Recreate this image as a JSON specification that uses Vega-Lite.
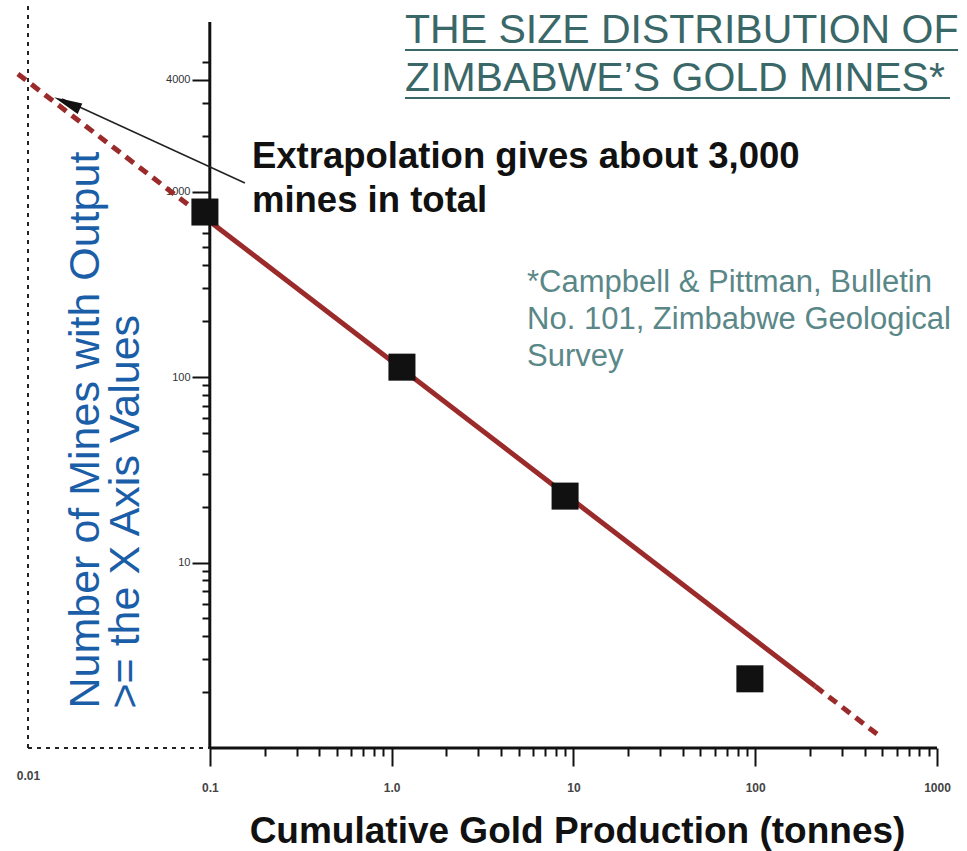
{
  "$schema": "https://vega.github.io/schema/vega-lite/v6.json",
  "width": 909,
  "height": 742,
  "autosize": "none",
  "padding": {"left": 28, "top": 6, "right": 30, "bottom": 103},
  "background": "white",
  "config": {"view": {"stroke": null}},
  "layer": [
    {
      "data": {"values": [
        {"x": 0.01, "x2": 0.01, "y": 1, "y2": 10000},
        {"x": 0.01, "x2": 0.1, "y": 1, "y2": 1}
      ]},
      "mark": {"type": "rule", "color": "#222222", "strokeWidth": 2, "strokeDash": [4, 5]},
      "encoding": {
        "x": {"field": "x", "type": "quantitative",
          "scale": {"type": "log", "domain": [0.01, 1000]},
          "axis": {
            "domain": false, "grid": false,
            "values": [0.01, 0.1, 0.2, 0.3, 0.4, 0.5, 0.6, 0.7, 0.8, 0.9, 1, 2, 3, 4, 5, 6, 7, 8, 9, 10, 20, 30, 40, 50, 60, 70, 80, 90, 100, 200, 300, 400, 500, 600, 700, 800, 900, 1000],
            "labelExpr": "datum.value == 0.01 ? '0.01' : datum.value == 0.1 ? '0.1' : datum.value == 1 ? '1.0' : datum.value == 10 ? '10' : datum.value == 100 ? '100' : datum.value == 1000 ? '1000' : ''",
            "labelOverlap": false, "labelBound": false, "labelFlush": false,
            "labelFont": "Liberation Sans", "labelFontSize": 12, "labelFontWeight": "bold", "labelColor": "#444444",
            "labelPadding": {"condition": {"test": "datum.value == 0.01", "value": 14}, "value": 16},
            "tickColor": "#111111", "tickWidth": 2,
            "tickOpacity": {"condition": {"test": "datum.value == 0.01", "value": 0}, "value": 1},
            "tickSize": {"condition": {"test": "indexof([0.1, 1, 10, 100, 1000], datum.value) >= 0", "value": 18}, "value": 8},
            "title": "Cumulative Gold Production (tonnes)",
            "titleFont": "Liberation Sans", "titleFontSize": 37, "titleFontWeight": "bold", "titleColor": "#111111",
            "titleX": 549, "titleY": 94, "titleAlign": "center", "titleBaseline": "alphabetic"
          }
        },
        "x2": {"field": "x2"},
        "y": {"field": "y", "type": "quantitative",
          "scale": {"type": "log", "domain": [1, 10000]},
          "axis": {
            "offset": -182, "domain": false, "grid": false,
            "values": [2, 3, 4, 5, 6, 7, 8, 9, 10, 20, 30, 40, 50, 60, 70, 80, 90, 100, 200, 300, 400, 500, 600, 700, 800, 900, 1000, 2000, 3000, 4000, 5000],
            "labelExpr": "indexof([10, 100, 1000, 4000], datum.value) >= 0 ? format(datum.value, 'd') : ''",
            "labelOverlap": false, "labelBound": false, "labelFlush": false,
            "labelFont": "Liberation Sans", "labelFontSize": 11, "labelColor": "#333333", "labelPadding": 2,
            "tickColor": "#111111", "tickWidth": 2,
            "tickSize": {"condition": {"test": "indexof([10, 100, 1000, 4000], datum.value) >= 0", "value": 18}, "value": 8},
            "title": ["Number of Mines with Output", ">= the X Axis Values"],
            "titleFont": "Liberation Sans", "titleFontSize": 43, "titleFontWeight": "normal", "titleColor": "#1b5ea8",
            "titleAngle": -90, "titleX": -125, "titleY": 702, "titleAlign": "left", "titleBaseline": "middle", "titleLineHeight": 40
          }
        },
        "y2": {"field": "y2"}
      }
    },
    {
      "data": {"values": [
        {"x": 0.1, "x2": 0.1, "y": 1, "y2": 8200},
        {"x": 0.1, "x2": 1000, "y": 1, "y2": 1}
      ]},
      "mark": {"type": "rule", "color": "#111111", "strokeWidth": 3},
      "encoding": {
        "x": {"field": "x", "type": "quantitative"},
        "x2": {"field": "x2"},
        "y": {"field": "y", "type": "quantitative"},
        "y2": {"field": "y2"}
      }
    },
    {
      "data": {"values": [
        {"x": 0.0088, "x2": 0.1, "y": 4300, "y2": 690},
        {"x": 214, "x2": 500, "y": 2.15, "y2": 1.13}
      ]},
      "mark": {"type": "rule", "color": "#9b2a2a", "strokeWidth": 5, "strokeDash": [10, 7], "clip": false},
      "encoding": {
        "x": {"field": "x", "type": "quantitative"},
        "x2": {"field": "x2"},
        "y": {"field": "y", "type": "quantitative"},
        "y2": {"field": "y2"}
      }
    },
    {
      "data": {"values": [
        {"x": 0.1, "y": 690},
        {"x": 214, "y": 2.15}
      ]},
      "mark": {"type": "line", "color": "#9b2a2a", "strokeWidth": 5},
      "encoding": {
        "x": {"field": "x", "type": "quantitative"},
        "y": {"field": "y", "type": "quantitative"}
      }
    },
    {
      "data": {"values": [
        {"x": 0.094, "y": 775},
        {"x": 1.14, "y": 113},
        {"x": 9.0, "y": 22.8},
        {"x": 93.5, "y": 2.36}
      ]},
      "mark": {"type": "point", "shape": "square", "filled": true, "color": "#111111", "opacity": 1, "size": 730},
      "encoding": {
        "x": {"field": "x", "type": "quantitative"},
        "y": {"field": "y", "type": "quantitative"}
      }
    },
    {
      "data": {"values": [
        {"x": 0.156, "x2": 0.0154, "y": 1111, "y2": 3153}
      ]},
      "mark": {"type": "rule", "color": "#222222", "strokeWidth": 1.5, "clip": false},
      "encoding": {
        "x": {"field": "x", "type": "quantitative"},
        "x2": {"field": "x2"},
        "y": {"field": "y", "type": "quantitative"},
        "y2": {"field": "y2"}
      }
    },
    {
      "data": {"values": [
        {"x": 0.0164, "y": 3000}
      ]},
      "mark": {"type": "point", "shape": "M0,-1L0.4,1L-0.4,1Z", "filled": true, "color": "#111111", "opacity": 1, "size": 800, "angle": 294},
      "encoding": {
        "x": {"field": "x", "type": "quantitative"},
        "y": {"field": "y", "type": "quantitative"}
      }
    },
    {
      "data": {"values": [
        {"x": 0.1706, "y": 1339, "label": ["Extrapolation gives about 3,000", "mines in total"]}
      ]},
      "mark": {"type": "text", "align": "left", "baseline": "alphabetic", "font": "Liberation Sans", "fontSize": 36.5, "fontWeight": "bold", "color": "#111111", "lineHeight": 44, "clip": false},
      "encoding": {
        "x": {"field": "x", "type": "quantitative"},
        "y": {"field": "y", "type": "quantitative"},
        "text": {"field": "label"}
      }
    },
    {
      "data": {"values": [
        {"x": 1.185, "y": 6300, "label": ["THE SIZE DISTRIBUTION OF", "ZIMBABWE’S GOLD MINES*"]}
      ]},
      "mark": {"type": "text", "align": "left", "baseline": "alphabetic", "font": "Liberation Sans", "fontSize": 41, "color": "#3a6767", "lineHeight": 48, "clip": false},
      "encoding": {
        "x": {"field": "x", "type": "quantitative"},
        "y": {"field": "y", "type": "quantitative"},
        "text": {"field": "label"}
      }
    },
    {
      "data": {"values": [
        {"x": 1.185, "x2": 1306, "y": 5795, "y2": 5795},
        {"x": 1.185, "x2": 1178, "y": 3192, "y2": 3192}
      ]},
      "mark": {"type": "rule", "color": "#3a6767", "strokeWidth": 2, "clip": false},
      "encoding": {
        "x": {"field": "x", "type": "quantitative"},
        "x2": {"field": "x2"},
        "y": {"field": "y", "type": "quantitative"},
        "y2": {"field": "y2"}
      }
    },
    {
      "data": {"values": [
        {"x": 5.56, "y": 287, "label": ["*Campbell & Pittman, Bulletin", "No. 101, Zimbabwe Geological", "Survey"]}
      ]},
      "mark": {"type": "text", "align": "left", "baseline": "alphabetic", "font": "Liberation Sans", "fontSize": 31, "color": "#5a8787", "lineHeight": 37, "clip": false},
      "encoding": {
        "x": {"field": "x", "type": "quantitative"},
        "y": {"field": "y", "type": "quantitative"},
        "text": {"field": "label"}
      }
    }
  ]
}
